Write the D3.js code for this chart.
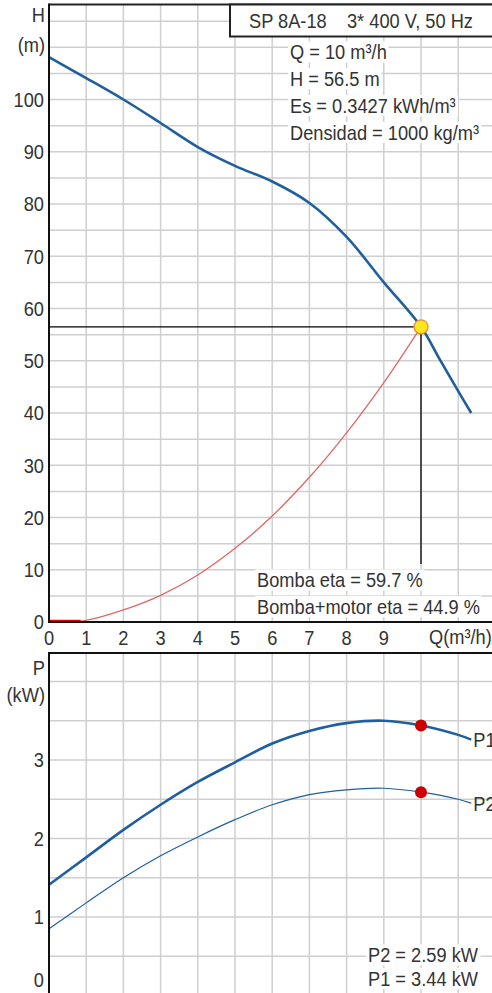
<!DOCTYPE html>
<html><head><meta charset="utf-8">
<script src="https://cdn.jsdelivr.net/npm/d3@7"></script>
<style>
html,body{margin:0;padding:0;background:#fff;}
svg{display:block;}
text{font-family:"Liberation Sans",Arial,sans-serif;fill:#333;}
</style></head>
<body>
<script>
// ---------- data ----------
const qTicks = [0,1,2,3,4,5,6,7,8,9];
const hTicks = [0,10,20,30,40,50,60,70,80,90,100];
const pTicks = [0,1,2,3];

const headQ = [0,1,2,3,4,5,6,7,8,9,10,10.5,11,11.35];
const headH = [108.1,104.1,100.0,95.5,90.9,87.3,84.3,80.2,73.7,65.0,56.5,50.3,44.2,40.0];

const sysQ = [0,0.5,1,2,3,4,5,6,7,8,9,10];
const sysH = [0,0,0.3,2.3,5.1,9.0,14.1,20.3,27.7,36.2,45.8,56.5];

const powQ = [0,1,2,3,4,5,6,7,8,9,10,11,11.35];
const powP1 = [1.41,1.76,2.11,2.43,2.72,2.97,3.21,3.37,3.47,3.50,3.44,3.32,3.26];
const powP2 = [0.85,1.18,1.50,1.78,2.02,2.24,2.43,2.56,2.62,2.64,2.59,2.50,2.45];

const duty = {q:10, h:56.5, p1:3.44, p2:2.59};
const titleText = "SP 8A-18    3* 400 V, 50 Hz";
const infoLines = ["Q = 10 m³/h","H = 56.5 m","Es = 0.3427 kWh/m³","Densidad = 1000 kg/m³"];
const etaLines = ["Bomba eta = 59.7 %","Bomba+motor eta = 44.9 %"];
const powLines = ["P2 = 2.59 kW","P1 = 3.44 kW"];

// ---------- layout ----------
const W = 492, Hgt = 993;
const FS = 20.5, SX = 0.89;
const svg = d3.select("body").append("svg").attr("width",W).attr("height",Hgt);

const x = d3.scaleLinear().domain([0,12]).range([49, 49+12*37.2]);
const yH = d3.scaleLinear().domain([0,100]).range([622, 99.5]);
const yP = d3.scaleLinear().domain([0,3]).range([995.5, 760]);

const grid = "#cfcfcf";
const blue = "#1f5f9e";
const red = "#e06666";

function label(g, str, px, py, anchor, bg){
  const t = g.append("g").attr("transform",`translate(${px},${py}) scale(${SX},1)`);
  const r = bg ? t.append("rect").attr("fill","#fff") : null;
  const tx = t.append("text").attr("text-anchor",anchor||"start")
    .attr("dominant-baseline","central").attr("font-size",FS).style("white-space","pre").text(str);
  if(r){ const b = tx.node().getBBox(); r.attr("x",b.x-2).attr("y",b.y+1).attr("width",b.width+4).attr("height",b.height-2); }
  return t;
}

// ---------- top chart ----------
const gTop = svg.append("g");
const hTop = 4.5;
d3.range(5,120,5).forEach(v=>{ if(yH(v)>hTop) gTop.append("line").attr("x1",49).attr("x2",W).attr("y1",yH(v)).attr("y2",yH(v)).attr("stroke",grid).attr("stroke-width",1.5); });
d3.range(1,13).forEach(v=>{ gTop.append("line").attr("x1",x(v)).attr("x2",x(v)).attr("y1",hTop).attr("y2",622).attr("stroke",grid).attr("stroke-width",1.5); });

const lineH = d3.line().x(d=>x(d[0])).y(d=>yH(d[1])).curve(d3.curveCatmullRom.alpha(0.5));
gTop.append("path").attr("d", lineH(sysQ.map((q,i)=>[q,sysH[i]]))).attr("fill","none").attr("stroke",red).attr("stroke-width",1.3);
gTop.append("line").attr("x1",x(0)).attr("x2",x(0.85)).attr("y1",yH(0)-1).attr("y2",yH(0)-1).attr("stroke","#e00000").attr("stroke-width",2.5);
gTop.append("path").attr("d", lineH(headQ.map((q,i)=>[q,headH[i]]))).attr("fill","none").attr("stroke",blue).attr("stroke-width",2.6);

gTop.append("line").attr("x1",49).attr("x2",x(duty.q)).attr("y1",yH(duty.h)).attr("y2",yH(duty.h)).attr("stroke","#000").attr("stroke-width",1.3);
gTop.append("line").attr("x1",x(duty.q)).attr("x2",x(duty.q)).attr("y1",yH(duty.h)).attr("y2",564).attr("stroke","#000").attr("stroke-width",1.3);
gTop.append("circle").attr("cx",x(duty.q)).attr("cy",yH(duty.h)).attr("r",7).attr("fill","#ffe81a").attr("stroke","#f08a3a").attr("stroke-width",1.3);

gTop.append("line").attr("x1",49).attr("x2",W).attr("y1",hTop).attr("y2",hTop).attr("stroke","#222").attr("stroke-width",2);
gTop.append("line").attr("x1",49).attr("x2",49).attr("y1",hTop-1).attr("y2",623).attr("stroke","#111").attr("stroke-width",2);
gTop.append("line").attr("x1",48).attr("x2",W).attr("y1",622).attr("y2",622).attr("stroke","#111").attr("stroke-width",2);

gTop.append("rect").attr("x",230).attr("y",hTop).attr("width",W).attr("height",32).attr("fill","#fff").attr("stroke","#222").attr("stroke-width",2);
label(gTop, titleText, 361, 20.5, "middle", false);

infoLines.forEach((s,i)=>label(gTop, s, 290, 52+i*26.8, "start", true));
etaLines.forEach((s,i)=>label(gTop, s, 257, 580+i*26.5, "start", true));

label(gTop,"H",45,15,"end",false);
label(gTop,"(m)",45,45,"end",false);
hTicks.forEach(v=>label(gTop, String(v), 44, yH(v), "end", false));
qTicks.forEach(v=>label(gTop, String(v), x(v), 638, "middle", false));
label(gTop,"Q(m³/h)",429,637,"start",false);

// ---------- bottom chart ----------
const gBot = svg.append("g");
const pTop = 653;
d3.range(0.5,4.5,0.5).forEach(v=>{ if(yP(v)>pTop) gBot.append("line").attr("x1",49).attr("x2",W).attr("y1",yP(v)).attr("y2",yP(v)).attr("stroke",grid).attr("stroke-width",1.5); });
d3.range(1,13).forEach(v=>{ gBot.append("line").attr("x1",x(v)).attr("x2",x(v)).attr("y1",pTop).attr("y2",Hgt).attr("stroke",grid).attr("stroke-width",1.5); });

const lineP = d3.line().x(d=>x(d[0])).y(d=>yP(d[1])).curve(d3.curveCatmullRom.alpha(0.5));
gBot.append("path").attr("d", lineP(powQ.map((q,i)=>[q,powP2[i]]))).attr("fill","none").attr("stroke",blue).attr("stroke-width",1.2);
gBot.append("path").attr("d", lineP(powQ.map((q,i)=>[q,powP1[i]]))).attr("fill","none").attr("stroke",blue).attr("stroke-width",2.6);
gBot.append("circle").attr("cx",x(duty.q)).attr("cy",yP(duty.p1)).attr("r",6).attr("fill","#cc0000");
gBot.append("circle").attr("cx",x(duty.q)).attr("cy",yP(duty.p2)).attr("r",6).attr("fill","#cc0000");

gBot.append("line").attr("x1",49).attr("x2",W).attr("y1",pTop).attr("y2",pTop).attr("stroke","#111").attr("stroke-width",2);
gBot.append("line").attr("x1",49).attr("x2",49).attr("y1",pTop-1).attr("y2",Hgt).attr("stroke","#111").attr("stroke-width",2);

label(gBot,"P1",x(powQ[powQ.length-1])+2,yP(powP1[powP1.length-1]),"start",false);
label(gBot,"P2",x(powQ[powQ.length-1])+2,yP(powP2[powP2.length-1]),"start",false);
label(gBot,"P",45,668,"end",false);
label(gBot,"(kW)",45,695,"end",false);
pTicks.forEach(v=>label(gBot, String(v), 44, Math.min(yP(v), 980), "end", false));
powLines.forEach((s,i)=>label(gBot, s, 368, 955+i*23.5, "start", true));
</script>
</body></html>
